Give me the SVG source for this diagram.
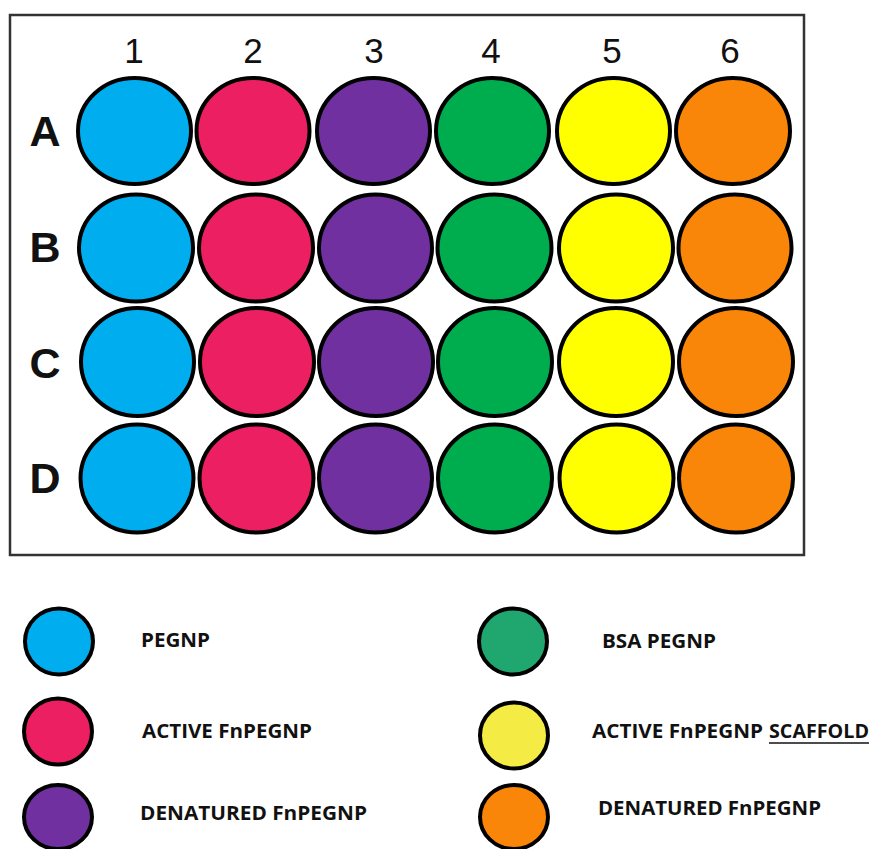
<svg xmlns="http://www.w3.org/2000/svg" width="874" height="849" viewBox="0 0 874 849">
<style>
.w{stroke:#000;stroke-width:4}
.lg{stroke:#000;stroke-width:4}
.c1{fill:#00AEEF}.c2{fill:#ED1F63}.c3{fill:#7030A0}.c4{fill:#00AD4E}.c5{fill:#FFFF00}.c6{fill:#F98608}
.l4{fill:#20A770}.l5{fill:#F5EB45}.l6{fill:#F98608}
.num{font-family:"Liberation Sans",Arial,sans-serif;font-size:35px;fill:#111;text-anchor:middle}
.row{font-family:"Liberation Sans",Arial,sans-serif;font-size:43px;font-weight:bold;fill:#111;text-anchor:middle}
.lt{font-family:"Open Sans","Liberation Sans",sans-serif;font-size:19.5px;font-weight:bold;fill:#111}
</style>
<rect width="874" height="849" fill="#fff"/>
<g id="plate">
<rect x="10" y="15" width="794" height="540" fill="#fff" stroke="#333" stroke-width="2.5"/>
<g id="col-labels">
<text class="num" x="134" y="63">1</text>
<text class="num" x="253" y="63">2</text>
<text class="num" x="374" y="63">3</text>
<text class="num" x="491" y="63">4</text>
<text class="num" x="612" y="63">5</text>
<text class="num" x="730" y="63">6</text>
</g>
<g id="row-labels">
<text class="row" x="45" y="146">A</text>
<text class="row" x="45" y="262">B</text>
<text class="row" x="45" y="378">C</text>
<text class="row" x="45" y="493">D</text>
</g>
</g>
<g id="row-A">
<ellipse id="A1" class="w c1" cx="134.5" cy="131" rx="56.5" ry="53"/>
<ellipse id="A2" class="w c2" cx="253" cy="131" rx="56.5" ry="53"/>
<ellipse id="A3" class="w c3" cx="373.5" cy="131" rx="56.5" ry="53"/>
<ellipse id="A4" class="w c4" cx="492.5" cy="131" rx="56.5" ry="53"/>
<ellipse id="A5" class="w c5" cx="613.5" cy="131" rx="56.5" ry="53"/>
<ellipse id="A6" class="w c6" cx="733" cy="131" rx="57" ry="53"/>
</g>
<g id="row-B">
<ellipse id="B1" class="w c1" cx="136" cy="248" rx="57" ry="53.5"/>
<ellipse id="B2" class="w c2" cx="256" cy="248" rx="57" ry="53.5"/>
<ellipse id="B3" class="w c3" cx="375.5" cy="248" rx="56.5" ry="53.5"/>
<ellipse id="B4" class="w c4" cx="494.5" cy="248" rx="57" ry="53.5"/>
<ellipse id="B5" class="w c5" cx="616" cy="248" rx="57" ry="53.5"/>
<ellipse id="B6" class="w c6" cx="735" cy="248" rx="56.5" ry="53.5"/>
</g>
<g id="row-C">
<ellipse id="C1" class="w c1" cx="137.5" cy="362" rx="56.5" ry="54"/>
<ellipse id="C2" class="w c2" cx="257" cy="362" rx="57" ry="54"/>
<ellipse id="C3" class="w c3" cx="376" cy="362" rx="57" ry="54"/>
<ellipse id="C4" class="w c4" cx="495" cy="362" rx="57" ry="54"/>
<ellipse id="C5" class="w c5" cx="616" cy="362" rx="57" ry="54"/>
<ellipse id="C6" class="w c6" cx="736" cy="362" rx="57" ry="54"/>
</g>
<g id="row-D">
<ellipse id="D1" class="w c1" cx="137" cy="478.5" rx="56.5" ry="54"/>
<ellipse id="D2" class="w c2" cx="256.5" cy="478.5" rx="57" ry="54"/>
<ellipse id="D3" class="w c3" cx="375.5" cy="478.5" rx="56.5" ry="54"/>
<ellipse id="D4" class="w c4" cx="495" cy="478.5" rx="57" ry="54"/>
<ellipse id="D5" class="w c5" cx="616.5" cy="478.5" rx="57" ry="54"/>
<ellipse id="D6" class="w c6" cx="736" cy="478.5" rx="57" ry="54"/>
</g>
<g id="connectors"/>
<g id="legend-pegnp">
<ellipse class="lg c1" cx="59" cy="641.5" rx="34" ry="33"/>
<text class="lt" x="141" y="647" textLength="69" lengthAdjust="spacingAndGlyphs">PEGNP</text>
</g>
<g id="legend-active">
<ellipse class="lg c2" cx="58" cy="731.5" rx="34" ry="33"/>
<text class="lt" x="142" y="738" textLength="170" lengthAdjust="spacingAndGlyphs">ACTIVE FnPEGNP</text>
</g>
<g id="legend-denatured">
<ellipse class="lg c3" cx="58" cy="817" rx="34" ry="32"/>
<text class="lt" x="140" y="820" textLength="227" lengthAdjust="spacingAndGlyphs">DENATURED FnPEGNP</text>
</g>
<g id="legend-bsa">
<ellipse class="lg l4" cx="513" cy="641.5" rx="34" ry="33"/>
<text class="lt" x="602" y="648" textLength="114" lengthAdjust="spacingAndGlyphs">BSA PEGNP</text>
</g>
<g id="legend-scaffold">
<ellipse class="lg l5" cx="514" cy="735.5" rx="34" ry="33"/>
<text class="lt" x="592" y="738" textLength="171" lengthAdjust="spacingAndGlyphs">ACTIVE FnPEGNP</text>
<text class="lt" x="769" y="738" textLength="100" lengthAdjust="spacingAndGlyphs">SCAFFOLD</text>
<line x1="769" y1="743" x2="869" y2="743" stroke="#111" stroke-width="1.5"/>
</g>
<g id="legend-denatured2">
<ellipse class="lg l6" cx="514" cy="817" rx="34" ry="32"/>
<text class="lt" x="598" y="815" textLength="223" lengthAdjust="spacingAndGlyphs">DENATURED FnPEGNP</text>
</g>
</svg>
